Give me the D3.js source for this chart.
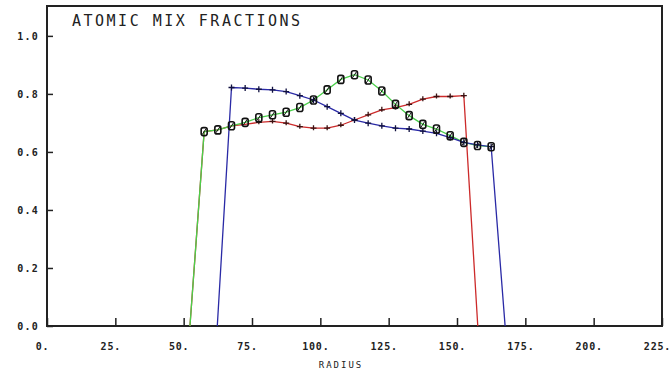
<!DOCTYPE html>
<html>
<head>
<meta charset="utf-8">
<script src="https://cdn.jsdelivr.net/npm/d3@7"></script>
<style>
  html, body { margin: 0; padding: 0; background: #fff; }
  svg { display: block; }
  .mono { font-family: "DejaVu Sans Mono", "Liberation Mono", monospace; }
</style>
</head>
<body>
<svg id="chart" width="671" height="375"></svg>
<script>
// Radius grid (cm) and mix fractions for the three materials
const greenRadius = [52.3, 57.5, 62.5, 67.5, 72.5, 77.5, 82.5, 87.5, 92.5, 97.5, 102.5, 107.5,
                     112.5, 117.5, 122.5, 127.5, 132.5, 137.5, 142.5, 147.5, 152.5, 157.5, 162.5];
const greenValues = [0.0, 0.670, 0.676, 0.690, 0.702, 0.718, 0.728, 0.737, 0.753, 0.779, 0.814, 0.850,
                     0.866, 0.848, 0.810, 0.764, 0.725, 0.695, 0.679, 0.656, 0.633, 0.622, 0.618];

const blueRadius = [62.3, 67.5, 72.5, 77.5, 82.5, 87.5, 92.5, 97.5, 102.5, 107.5, 112.5, 117.5,
                    122.5, 127.5, 132.5, 137.5, 142.5, 147.5, 152.5, 157.5, 162.5, 167.6];
const blueValues = [0.0, 0.822, 0.820, 0.816, 0.814, 0.808, 0.794, 0.779, 0.756, 0.733, 0.710, 0.699,
                    0.690, 0.682, 0.679, 0.672, 0.664, 0.649, 0.633, 0.624, 0.618, 0.0];

const redRadius = [52.3, 57.5, 62.5, 67.5, 72.5, 77.5, 82.5, 87.5, 92.5, 97.5, 102.5, 107.5,
                   112.5, 117.5, 122.5, 127.5, 132.5, 137.5, 142.5, 147.5, 152.5, 157.6];
const redValues = [0.0, 0.670, 0.676, 0.690, 0.695, 0.702, 0.705, 0.699, 0.687, 0.682, 0.682, 0.692,
                   0.710, 0.728, 0.745, 0.753, 0.764, 0.782, 0.791, 0.791, 0.794, 0.0];

const xTicks = [0, 25, 50, 75, 100, 125, 150, 175, 200, 225];
const yTicks = [0.0, 0.2, 0.4, 0.6, 0.8, 1.0];

const svg = d3.select("#chart");
const plotLeft = 47, plotRight = 662, plotTop = 6, plotBottom = 326;

const x = d3.scaleLinear().domain([0, 225]).range([plotLeft, plotRight]);
const y = d3.scaleLinear().domain([0, 1.103]).range([plotBottom, plotTop]);

// Frame
svg.append("rect")
  .attr("x", plotLeft).attr("y", plotTop)
  .attr("width", plotRight - plotLeft).attr("height", plotBottom - plotTop)
  .attr("fill", "none").attr("stroke", "#222").attr("stroke-width", 2);

// Axes with inward ticks
const xAxis = d3.axisBottom(x).tickValues(xTicks).tickSize(-8).tickPadding(17)
  .tickFormat(d => d + ".");
const gx = svg.append("g").attr("transform", `translate(0,${plotBottom})`).call(xAxis);
gx.select(".domain").remove();
gx.selectAll(".tick line").attr("stroke", "#222").attr("stroke-width", 1.5);
gx.selectAll(".tick text")
  .attr("class", "mono").attr("fill", "#222")
  .attr("font-size", 10).attr("font-weight", "bold")
  .attr("letter-spacing", 0.8).attr("dx", -5);

const yAxis = d3.axisLeft(y).tickValues(yTicks).tickSize(-6).tickPadding(8)
  .tickFormat(d3.format(".1f"));
const gy = svg.append("g").attr("transform", `translate(${plotLeft},0)`).call(yAxis);
gy.select(".domain").remove();
gy.selectAll(".tick line").attr("stroke", "#222").attr("stroke-width", 1.5);
gy.selectAll(".tick text")
  .attr("class", "mono").attr("fill", "#222")
  .attr("font-size", 10).attr("font-weight", "bold")
  .attr("letter-spacing", 1.2);

// Axis title and chart title
svg.append("text").attr("class", "mono")
  .attr("x", 341).attr("y", 368).attr("text-anchor", "middle")
  .attr("font-size", 9).attr("letter-spacing", 2).attr("fill", "#222")
  .text("RADIUS");

svg.append("text").attr("class", "mono")
  .attr("x", 72).attr("y", 26)
  .attr("font-size", 15).attr("letter-spacing", 2.5).attr("fill", "#222")
  .text("ATOMIC MIX FRACTIONS");

const line = d3.line().x(d => x(d[0])).y(d => y(d[1]));
const pairs = (rs, vs) => rs.map((r, i) => [r, vs[i]]);

const red = pairs(redRadius, redValues);
const green = pairs(greenRadius, greenValues);
const blue = pairs(blueRadius, blueValues);

svg.append("path").datum(red).attr("d", line)
  .attr("fill", "none").attr("stroke", "#cc2a2a").attr("stroke-width", 1.3);
svg.append("path").datum(green).attr("d", line)
  .attr("fill", "none").attr("stroke", "#4ad04a").attr("stroke-width", 1.3);
svg.append("path").datum(blue).attr("d", line)
  .attr("fill", "none").attr("stroke", "#2a2aa6").attr("stroke-width", 1.3);

// Markers (only on interior points, not the zero end points)
const inner = arr => arr.filter(d => d[1] > 0);

// Red: small dark ticks
svg.append("g").selectAll("path").data(inner(red).slice(4)).join("path")
  .attr("d", d => {
    const cx = x(d[0]), cy = y(d[1]);
    return `M${cx - 3},${cy}L${cx + 3},${cy}M${cx},${cy - 3}L${cx},${cy + 2}`;
  })
  .attr("stroke", "#3a1010").attr("stroke-width", 1.3);

// Blue: plus signs
svg.append("g").selectAll("path").data(inner(blue)).join("path")
  .attr("d", d => {
    const cx = x(d[0]), cy = y(d[1]);
    return `M${cx - 3},${cy}L${cx + 3},${cy}M${cx},${cy - 3}L${cx},${cy + 3}`;
  })
  .attr("stroke", "#101040").attr("stroke-width", 1.3);

// Green: "0" shaped symbols
const gm = svg.append("g").selectAll("g").data(inner(green)).join("g")
  .attr("transform", d => `translate(${x(d[0])},${y(d[1])})`);
gm.append("rect")
  .attr("x", -3).attr("y", -4).attr("width", 6).attr("height", 8).attr("rx", 2)
  .attr("fill", "none").attr("stroke", "#111").attr("stroke-width", 1.6);
gm.append("path").attr("d", "M-2,3L2,-3")
  .attr("stroke", "#111").attr("stroke-width", 1);
</script>
</body>
</html>
